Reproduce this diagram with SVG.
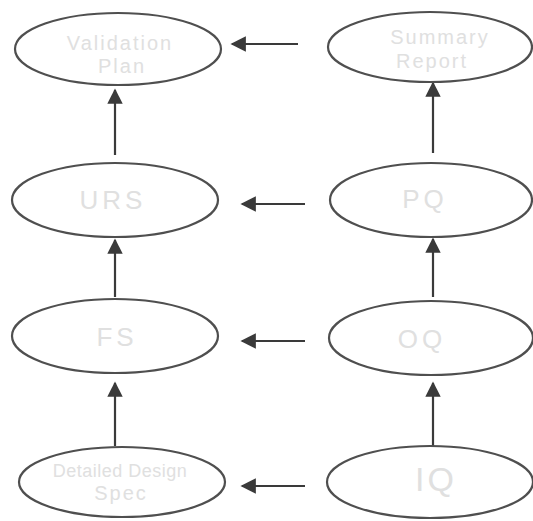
<svg xmlns="http://www.w3.org/2000/svg" width="533" height="521" viewBox="0 0 533 521">
<style>
.n ellipse{fill:#fff;stroke:#4f4f4f;stroke-width:2.2}
.n text{font-family:"Liberation Sans",Arial,sans-serif;fill:#e0e0e0;text-anchor:middle}
.big{font-size:26px;letter-spacing:4px}
.sm{font-size:20px;letter-spacing:2px}
#edges line{stroke:#3a3a3a;stroke-width:2.2}
</style>
<defs>
<marker id="ah" viewBox="0 0 10 10" refX="9" refY="5" markerWidth="7" markerHeight="7" orient="auto" markerUnits="strokeWidth">
<path d="M0,0 L10,5 L0,10 z" fill="#3a3a3a"/>
</marker>
</defs>
<rect width="533" height="521" fill="#fff"/>
<g id="edges">
<line x1="298" y1="44" x2="232" y2="44" marker-end="url(#ah)"/>
<line x1="305" y1="204" x2="242" y2="204" marker-end="url(#ah)"/>
<line x1="305" y1="341" x2="242" y2="341" marker-end="url(#ah)"/>
<line x1="305" y1="486" x2="242" y2="486" marker-end="url(#ah)"/>
<line x1="115" y1="155" x2="115" y2="90" marker-end="url(#ah)"/>
<line x1="115" y1="297" x2="115" y2="240" marker-end="url(#ah)"/>
<line x1="115" y1="446" x2="115" y2="383" marker-end="url(#ah)"/>
<line x1="433" y1="153" x2="433" y2="83" marker-end="url(#ah)"/>
<line x1="433" y1="297" x2="433" y2="239" marker-end="url(#ah)"/>
<line x1="433" y1="446" x2="433" y2="383" marker-end="url(#ah)"/>
</g>
<g id="n-vplan" class="n"><ellipse cx="118" cy="49" rx="103" ry="36"/><text class="sm" x="120" y="50">Validation</text><text class="sm" x="122" y="73">Plan</text></g>
<g id="n-report" class="n"><ellipse cx="430" cy="47" rx="102" ry="35"/><text class="sm" x="440" y="44">Summary</text><text class="sm" x="432" y="68">Report</text></g>
<g id="n-urs" class="n"><ellipse cx="115" cy="200" rx="103" ry="37"/><text class="big" x="113" y="209">URS</text></g>
<g id="n-pq" class="n"><ellipse cx="431" cy="200" rx="101" ry="37"/><text class="big" x="425" y="208">PQ</text></g>
<g id="n-fs" class="n"><ellipse cx="115" cy="336" rx="103" ry="37"/><text class="big" x="117" y="346">FS</text></g>
<g id="n-oq" class="n"><ellipse cx="431" cy="338" rx="102" ry="37"/><text class="big" x="422" y="348">OQ</text></g>
<g id="n-ds" class="n"><ellipse cx="122" cy="482" rx="103" ry="35"/><text x="120" y="477" style="font-size:18px;letter-spacing:0.5px">Detailed Design</text><text class="sm" x="121" y="500">Spec</text></g>
<g id="n-iq" class="n"><ellipse cx="430" cy="482" rx="103" ry="36"/><text x="436" y="491" style="font-size:34px;letter-spacing:3px">IQ</text></g>
</svg>
